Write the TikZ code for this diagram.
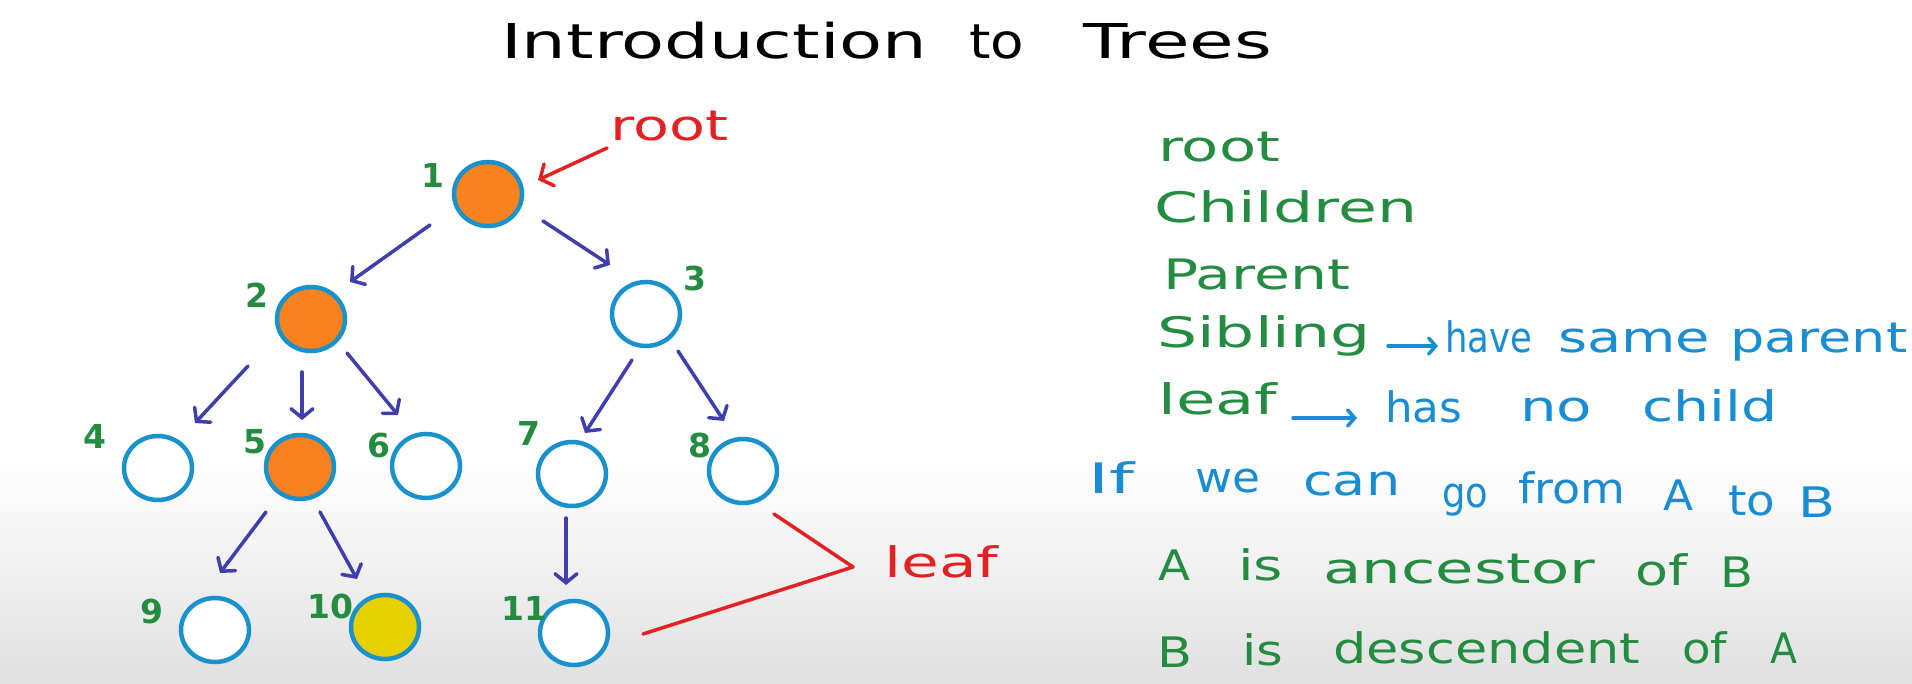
\documentclass[tikz,border=0pt]{standalone}
\usepackage{fontspec}
\usepackage{graphicx}
\setmainfont{DejaVu Sans}
\usetikzlibrary{arrows.meta,shapes.geometric,calc}
\definecolor{tgreen}{RGB}{35,140,65}
\definecolor{tblue}{RGB}{25,140,210}
\definecolor{nblue}{RGB}{25,145,205}
\definecolor{aviolet}{RGB}{62,62,172}
\definecolor{torange}{RGB}{248,130,30}
\definecolor{tyellow}{RGB}{232,208,0}
\definecolor{tred}{RGB}{226,34,34}
\newcommand{\hw}[2]{\resizebox{#1pt}{\height}{#2}}
\tikzset{
  tnode/.style={ellipse,draw=nblue,line width=4.5pt,minimum width=68pt,minimum height=64pt,inner sep=0pt},
  numlbl/.style={text=tgreen,font=\fontsize{33}{40}\selectfont\bfseries,inner sep=0pt},
  word/.style={anchor=base west,inner sep=0pt,font=\fontsize{42}{50}\selectfont},
  gword/.style={word,text=tgreen},
  bword/.style={word,text=tblue},
  rword/.style={word,text=tred},
  kword/.style={anchor=base west,inner sep=0pt,font=\fontsize{48}{56}\selectfont,text=black},
  tarr/.style={draw=aviolet,line width=3.5pt,line cap=round,-{Straight Barb[length=9pt,width=22pt,line cap=round]}},
  barr/.style={draw=tblue,line width=3.5pt,line cap=round,-{Straight Barb[length=7pt,width=16pt,line cap=round]}},
  rarr/.style={draw=tred,line width=3.5pt,line cap=round,-{Straight Barb[length=10pt,width=24pt,line cap=round]}},
  rline/.style={draw=tred,line width=3.5pt,line cap=round,line join=round}
}
\begin{document}
\begin{tikzpicture}[x=1pt,y=-1pt]
\useasboundingbox (0,0) rectangle (1912,684);
\fill[white] (0,0) rectangle (1912,684);
\shade[top color=white,bottom color=black!12] (0,460) rectangle (1912,684);

% title
\node[kword] (ti1) at (501,59) {\hw{426}{Introduction}};
\node[kword] (ti2) at (969,59) {\hw{55}{to}};
\node[kword] (ti3) at (1083,59) {\hw{189}{Trees}};

% tree nodes
\node[tnode,fill=torange] (n1) at (488,194) {};
\node[tnode,fill=torange] (n2) at (311,319) {};
\node[tnode,fill=white] (n3) at (646,314) {};
\node[tnode,fill=white] (n4) at (158,468) {};
\node[tnode,fill=torange] (n5) at (300,467) {};
\node[tnode,fill=white] (n6) at (426,466) {};
\node[tnode,fill=white] (n7) at (572,474) {};
\node[tnode,fill=white] (n8) at (743,471) {};
\node[tnode,fill=white] (n9) at (215,630) {};
\node[tnode,fill=tyellow] (n10) at (385,627) {};
\node[tnode,fill=white] (n11) at (574,633) {};

% number labels
\node[numlbl] (l1) at (433,175) {1};
\node[numlbl] (l2) at (257,295) {2};
\node[numlbl] (l3) at (695,278) {3};
\node[numlbl] (l4) at (95,436) {4};
\node[numlbl] (l5) at (255,442) {5};
\node[numlbl] (l6) at (379,446) {6};
\node[numlbl] (l7) at (529,433) {7};
\node[numlbl] (l8) at (700,445) {8};
\node[numlbl] (l9) at (152,612) {9};
\node[numlbl] (l10) at (330,606) {10};
\node[numlbl] (l11) at (524,608) {11};

% tree arrows
\draw[tarr] ($(n1)+(-58,31)$) -- ($(n2)+(39,-37)$);
\draw[tarr] ($(n1)+(55,27)$) -- ($(n3)+(-36,-49)$);
\draw[tarr] ($(n2)+(-63,47)$) -- ($(n4)+(37,-45)$);
\draw[tarr] ($(n2)+(-9,53)$) -- ($(n5)+(2,-47)$);
\draw[tarr] ($(n2)+(36,34)$) -- ($(n6)+(-28,-51)$);
\draw[tarr] ($(n3)+(-14,46)$) -- ($(n7)+(13,-41)$);
\draw[tarr] ($(n3)+(32,37)$) -- ($(n8)+(-19,-50)$);
\draw[tarr] ($(n5)+(-34,45)$) -- ($(n9)+(5,-57)$);
\draw[tarr] ($(n5)+(20,45)$) -- ($(n10)+(-28,-48)$);
\draw[tarr] ($(n7)+(-6,44)$) -- ($(n11)+(-8,-48)$);

% root label
\node[rword] (rootl) at (610,141) {\hw{118}{root}};
\coordinate (ra) at (607,148);
\draw[rarr] (ra) -- ($(n1)+(50,-14)$);

% leaf label
\node[rword] (leafl) at (884,577) {\hw{114}{leaf}};
\coordinate (lv) at (853,567);
\draw[rline] ($(n8)+(31,43)$) -- (lv) -- ($(n11)+(69,1)$);

% right side text
\node[gword] (w1) at (1158,162) {\hw{122}{root}};
\node[gword] (w2) at (1154,223) {\hw{263}{Children}};
\node[gword] (w3) at (1163,290) {\hw{187}{Parent}};
\node[gword] (w4) at (1157,348) {\hw{213}{Sibling}};
\coordinate (a1s) at (1388,346);
\coordinate (a1e) at (1438,346);
\draw[barr] (a1s) -- (a1e);
\node[bword] (w5) at (1445,353) {\hw{87}{have}};
\node[bword] (w6) at (1558,353) {\hw{152}{same}};
\node[bword] (w7) at (1730,353) {\hw{177}{parent}};
\node[gword] (w8) at (1158,415) {\hw{119}{leaf}};
\coordinate (a2s) at (1293,418);
\coordinate (a2e) at (1357,418);
\draw[barr] (a2s) -- (a2e);
\node[bword] (w9) at (1385,423) {\hw{77}{has}};
\node[bword] (w10) at (1520,422) {\hw{72}{no}};
\node[bword] (w11) at (1642,422) {\hw{135}{child}};
\node[bword] (w12) at (1088,493) {\hw{46}{If}};
\node[bword] (w13) at (1195,493) {\hw{65}{we}};
\node[bword] (w14) at (1303,495) {\hw{97}{can}};
\node[bword] (w15) at (1442,507) {\hw{46}{go}};
\node[bword] (w16) at (1518,503) {\hw{107}{from}};
\node[bword] (w17) at (1663,510) {\hw{30}{A}};
\node[bword] (w18) at (1728,515) {\hw{47}{to}};
\node[bword] (w19) at (1798,517) {\hw{37}{B}};
\node[gword] (w20) at (1158,580) {\hw{32}{A}};
\node[gword] (w21) at (1238,580) {\hw{45}{is}};
\node[gword] (w22) at (1323,583) {\hw{272}{ancestor}};
\node[gword] (w23) at (1635,585) {\hw{52}{of}};
\node[gword] (w24) at (1720,587) {\hw{33}{B}};
\node[gword] (w25) at (1157,667) {\hw{35}{B}};
\node[gword] (w26) at (1242,665) {\hw{41}{is}};
\node[gword] (w27) at (1333,663) {\hw{307}{descendent}};
\node[gword] (w28) at (1682,663) {\hw{45}{of}};
\node[gword] (w29) at (1770,663) {\hw{27}{A}};
\end{tikzpicture}
\end{document}
